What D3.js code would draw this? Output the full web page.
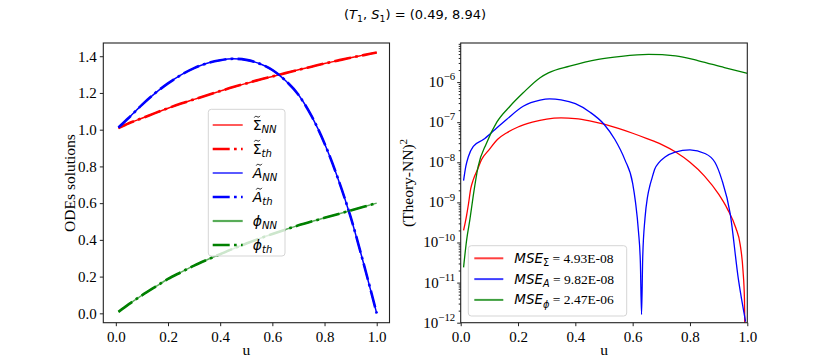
<!DOCTYPE html>
<head>
<meta charset="utf-8">
<title>ODE solutions vs NN</title>
<script src="https://d3js.org/d3.v7.min.js"></script>
<style>
body { margin: 0; background: #fff; }
svg { display: block; }
</style>
</head>
<body>
<script>
// ---- left panel: solutions of the ODEs ----
const uSol = [0.01, 0.05, 0.1, 0.15, 0.2, 0.25, 0.3, 0.35, 0.4, 0.45, 0.5,
              0.55, 0.6, 0.65, 0.7, 0.75, 0.8, 0.85, 0.9, 0.95, 1.0];
const sigmaVals = [1.008, 1.035, 1.062, 1.09, 1.117, 1.142, 1.165, 1.188, 1.21, 1.232, 1.252,
                   1.272, 1.29, 1.308, 1.326, 1.343, 1.36, 1.376, 1.392, 1.406, 1.42];
const aVals = [1.012, 1.065, 1.135, 1.198, 1.252, 1.298, 1.335, 1.362, 1.378, 1.386, 1.38,
               1.36, 1.325, 1.268, 1.19, 1.075, 0.925, 0.74, 0.525, 0.27, 0.0];
const phiVals = [0.008, 0.05, 0.098, 0.143, 0.187, 0.224, 0.26, 0.292, 0.322, 0.352, 0.38,
                 0.407, 0.432, 0.456, 0.479, 0.5, 0.52, 0.54, 0.56, 0.58, 0.6];

// ---- right panel: squared error (theory - NN)^2 ----
const uErrSigma = [0.01, 0.02, 0.027, 0.035, 0.044, 0.06, 0.073, 0.1, 0.13, 0.16, 0.2, 0.25, 0.3, 0.35,
                   0.4, 0.45, 0.5, 0.55, 0.6, 0.65, 0.7, 0.75, 0.8, 0.85, 0.9, 0.93, 0.96, 0.975, 0.985, 0.99, 0.995];
const errSigma = [2.0e-10, 4.5e-10, 9e-10, 2.2e-9, 3.7e-9, 7e-9, 1.17e-8, 2.1e-8, 3.8e-8, 5.4e-8, 7.6e-8, 1.0e-7, 1.2e-7, 1.28e-7,
                  1.23e-7, 1.08e-7, 8.9e-8, 7.0e-8, 5.3e-8, 3.9e-8, 2.8e-8, 1.8e-8, 1.0e-8, 4.6e-9, 1.6e-9, 7e-10, 2.3e-10, 9e-11, 2e-11, 4e-12, 1e-14];

const uErrA = [0.01, 0.018, 0.027, 0.044, 0.079, 0.12, 0.16, 0.218, 0.277, 0.31, 0.35, 0.4, 0.45, 0.5, 0.538, 0.573,
               0.6, 0.61, 0.62, 0.627, 0.631, 0.635, 0.643, 0.652, 0.66, 0.666, 0.678, 0.69, 0.713, 0.748, 0.8, 0.852, 0.887, 0.911,
               0.94, 0.969, 0.994];
const errA = [3.5e-9, 8e-9, 1.4e-8, 2.5e-8, 3.7e-8, 6.6e-8, 1.17e-7, 2.5e-7, 3.55e-7, 3.8e-7, 3.6e-7, 2.9e-7, 1.8e-7, 8.9e-8, 3.7e-8, 1.15e-8,
              3.0e-9, 1.0e-9, 2.0e-10, 3e-11, 1.6e-12, 4e-11, 4e-10, 1.4e-9, 2.6e-9, 3.7e-9, 7e-9, 9.5e-9, 1.35e-8, 1.8e-8, 2.04e-8, 1.66e-8, 1.0e-8, 3.7e-9,
              5.4e-10, 1.2e-11, 1.07e-12];

const uErrPhi = [0.01, 0.021, 0.032, 0.044, 0.061, 0.09, 0.126, 0.172, 0.218, 0.277, 0.306, 0.38, 0.48, 0.56, 0.655,
                 0.75, 0.83, 0.92, 1.0];
const errPhi = [2.4e-11, 1.2e-10, 3.7e-10, 1.5e-9, 7.9e-9, 3.0e-8, 1.0e-7, 2.5e-7, 5.4e-7, 1.29e-6, 1.7e-6, 2.5e-6, 3.7e-6, 4.4e-6, 4.9e-6,
                4.5e-6, 3.4e-6, 2.3e-6, 1.66e-6];

const mseValues = ["4.93E-08", "9.82E-08", "2.47E-06"];
const xTicks = [0, 0.2, 0.4, 0.6, 0.8, 1.0];
const yTicksSol = [0, 0.2, 0.4, 0.6, 0.8, 1.0, 1.2, 1.4];
const logTickExps = [-12, -11, -10, -9, -8, -7, -6];

const width = 830, height = 363;
const yTop = 43, yBot = 322.7;
const L = {x0: 103.3, x1: 389.5};
const R = {x0: 460.7, x1: 747.3};
const SERIF = '"Liberation Serif", "Times New Roman", serif';
const SANS = '"DejaVu Sans", sans-serif';

const svg = d3.select('body').append('svg')
  .attr('width', width)
  .attr('height', height);

// text with sub/superscript pieces
function richText(g, x, y, parts, size, anchor) {
  const t = g.append('text')
    .attr('x', x).attr('y', y)
    .attr('text-anchor', anchor || 'start')
    .style('font-size', size + 'px')
    .style('fill', '#000');
  let shift = 0;
  parts.forEach(p => {
    const target = p.sub ? size * 0.24 : p.sup ? -size * 0.45 : 0;
    const ts = t.append('tspan').attr('dy', target - shift).text(p.t);
    shift = target;
    ts.style('font-family', p.serif ? SERIF : SANS);
    if (p.it) ts.style('font-style', 'italic');
    if (p.sub || p.sup) ts.style('font-size', (size * 0.72) + 'px');
  });
  return t;
}

function styleTicks(g) {
  g.select('.domain').remove();
  g.selectAll('.tick line').attr('stroke', '#222');
  g.selectAll('.tick text').style('font-family', SERIF).style('font-size', '15px').style('fill', '#000');
}

// title
richText(svg, width / 2, 19, [
  {t: '('}, {t: 'T', it: true}, {t: '1', sub: true}, {t: ', '}, {t: 'S', it: true}, {t: '1', sub: true},
  {t: ') = (0.49, 8.94)'}
], 13, 'middle');

// ================= left panel =================
const xL = d3.scaleLinear().domain([-0.048, 1.049]).range([L.x0, L.x1]);
const yL = d3.scaleLinear().domain([-0.051, 1.472]).range([yBot, yTop]);

svg.append('clipPath').attr('id', 'clipL')
  .append('rect').attr('x', L.x0).attr('y', yTop).attr('width', L.x1 - L.x0).attr('height', yBot - yTop);

const gxL = svg.append('g')
  .attr('transform', 'translate(0,' + yBot + ')')
  .call(d3.axisBottom(xL).tickValues(xTicks).tickFormat(d3.format('.1f')).tickSize(3.5).tickSizeOuter(0))
  .call(styleTicks);
gxL.selectAll('.tick text').attr('dy', '0.85em');

svg.append('g')
  .attr('transform', 'translate(' + L.x0 + ',0)')
  .call(d3.axisLeft(yL).tickValues(yTicksSol).tickFormat(d3.format('.1f')).tickSize(3.5).tickSizeOuter(0))
  .call(styleTicks);

const line = (xs, ys, sx, sy) => d3.line()
  .x(i => sx(xs[i])).y(i => sy(ys[i]))
  .curve(d3.curveMonotoneX)(d3.range(xs.length));

const dashDot = '17 4.3 2.7 4.3';
const solSeries = [
  {vals: sigmaVals, color: 'red'},
  {vals: aVals, color: 'blue'},
  {vals: phiVals, color: 'green'}
];
const plotL = svg.append('g').attr('clip-path', 'url(#clipL)');
solSeries.forEach(s => {
  plotL.append('path').attr('d', line(uSol, s.vals, xL, yL))
    .attr('fill', 'none').attr('stroke', s.color).attr('stroke-width', 1.5)
    .attr('opacity', s.color === 'green' ? 0.65 : 1);
  plotL.append('path').attr('d', line(uSol, s.vals, xL, yL))
    .attr('fill', 'none').attr('stroke', s.color).attr('stroke-width', 2.6)
    .attr('stroke-dasharray', dashDot);
});

svg.append('rect').attr('x', L.x0).attr('y', yTop).attr('width', L.x1 - L.x0).attr('height', yBot - yTop)
  .attr('fill', 'none').attr('stroke', '#222').attr('stroke-width', 1.1);

// left legend
const legL = svg.append('g');
legL.append('rect').attr('x', 208.3).attr('y', 109.3).attr('width', 76.7).attr('height', 146.7)
  .attr('rx', 3).attr('fill', 'white').attr('fill-opacity', 0.8).attr('stroke', '#d5d5d5');
const legEntries = [
  {color: 'red', dash: false, lw: 1.3, tilde: true, parts: [{t: 'Σ'}, {t: 'NN', it: true, sub: true}]},
  {color: 'red', dash: true, lw: 2.7, tilde: true, parts: [{t: 'Σ'}, {t: 'th', it: true, sub: true}]},
  {color: 'blue', dash: false, lw: 1.3, tilde: true, slant: 1.6, parts: [{t: 'A', it: true}, {t: 'NN', it: true, sub: true}]},
  {color: 'blue', dash: true, lw: 2.7, tilde: true, slant: 1.6, parts: [{t: 'A', it: true}, {t: 'th', it: true, sub: true}]},
  {color: 'green', dash: false, lw: 2.2, op: 0.65, parts: [{t: 'ϕ', it: true}, {t: 'NN', it: true, sub: true}]},
  {color: 'green', dash: true, lw: 2.7, parts: [{t: 'ϕ', it: true}, {t: 'th', it: true, sub: true}]}
];
// small tilde accent drawn as a stroke
const tildeShape = [[-3, 0.8], [-1.5, -0.7], [0, 0], [1.5, 0.7], [3, -0.8]];
legEntries.forEach((e, i) => {
  const yy = 125 + i * 24;
  const base = yy + 4.5;
  legL.append('line').attr('x1', 212.7).attr('x2', 242.7).attr('y1', yy).attr('y2', yy)
    .attr('stroke', e.color).attr('stroke-width', e.lw).attr('opacity', e.op || 1)
    .attr('stroke-dasharray', e.dash ? dashDot : null);
  const t = richText(legL, 252.7, base, e.parts, 14);
  if (e.tilde) {
    const ext = t.node().getExtentOfChar(0);
    const cx = ext.x + ext.width / 2 + (e.slant || 0), cy = base - 12.8;
    legL.append('path')
      .attr('d', d3.line().curve(d3.curveBasis)(tildeShape.map(p => [cx + p[0], cy + p[1]])))
      .attr('fill', 'none').attr('stroke', '#000').attr('stroke-width', 0.9);
  }
});

svg.append('text')
  .attr('transform', 'translate(75,183) rotate(-90)')
  .attr('text-anchor', 'middle')
  .style('font-family', SERIF).style('font-size', '15.5px')
  .text('ODEs solutions');
svg.append('text')
  .attr('x', (L.x0 + L.x1) / 2).attr('y', 355).attr('text-anchor', 'middle')
  .style('font-family', SERIF).style('font-size', '15.5px')
  .text('u');

// ================= right panel =================
const xR = d3.scaleLinear().domain([0, 1]).range([R.x0, R.x1]);
const yR = d3.scaleLog().domain([1e-12, Math.pow(10, -5.025)]).range([yBot, yTop]);

svg.append('clipPath').attr('id', 'clipR')
  .append('rect').attr('x', R.x0).attr('y', yTop).attr('width', R.x1 - R.x0).attr('height', yBot - yTop);

const gxR = svg.append('g')
  .attr('transform', 'translate(0,' + yBot + ')')
  .call(d3.axisBottom(xR).tickValues(xTicks).tickFormat(d3.format('.1f')).tickSize(3.5).tickSizeOuter(0))
  .call(styleTicks);
gxR.selectAll('.tick text').attr('dy', '0.85em');

// minor log ticks
const minor = [];
logTickExps.forEach(k => d3.range(2, 10).forEach(m => {
  const v = m * Math.pow(10, k);
  if (v <= yR.domain()[1]) minor.push(v);
}));
svg.append('g')
  .attr('transform', 'translate(' + R.x0 + ',0)')
  .call(d3.axisLeft(yR).tickValues(minor).tickFormat('').tickSize(2).tickSizeOuter(0))
  .call(styleTicks);

svg.append('g')
  .attr('transform', 'translate(' + R.x0 + ',0)')
  .call(d3.axisLeft(yR).tickValues(logTickExps.map(k => Math.pow(10, k))).tickFormat('').tickSize(3.5).tickSizeOuter(0))
  .call(styleTicks);
logTickExps.forEach(k => {
  richText(svg, R.x0 - 5.5, yR(Math.pow(10, k)) + 5, [
    {t: '10', serif: true}, {t: '\u2212' + (-k), serif: true, sup: true}
  ], 15, 'end');
});

const errSeries = [
  {u: uErrSigma, v: errSigma, color: 'red'},
  {u: uErrA, v: errA, color: 'blue'},
  {u: uErrPhi, v: errPhi, color: 'green'}
];
const plotR = svg.append('g').attr('clip-path', 'url(#clipR)');
errSeries.forEach(s => {
  plotR.append('path').attr('d', line(s.u, s.v, xR, yR))
    .attr('fill', 'none').attr('stroke', s.color).attr('stroke-width', 1.3);
});

svg.append('rect').attr('x', R.x0).attr('y', yTop).attr('width', R.x1 - R.x0).attr('height', yBot - yTop)
  .attr('fill', 'none').attr('stroke', '#222').attr('stroke-width', 1.1);

// right legend
const legR = svg.append('g');
legR.append('rect').attr('x', 468.3).attr('y', 245.7).attr('width', 158.4).attr('height', 70.3)
  .attr('rx', 3).attr('fill', 'white').attr('fill-opacity', 0.8).attr('stroke', '#d5d5d5');
const mseSubs = [{t: 'Σ', sub: true}, {t: 'A', it: true, sub: true}, {t: 'ϕ', it: true, sub: true}];
errSeries.forEach((s, i) => {
  const yy = 258.3 + i * 20.8;
  legR.append('line').attr('x1', 474.3).attr('x2', 503.3).attr('y1', yy).attr('y2', yy)
    .attr('stroke', s.color).attr('stroke-width', 2).attr('opacity', 0.75);
  richText(legR, 514.3, yy + 4.5, [
    {t: 'MSE', it: true}, mseSubs[i], {t: ' = ' + mseValues[i], serif: true}
  ], 13.5);
});

svg.append('text')
  .attr('transform', 'translate(413,183) rotate(-90)')
  .attr('text-anchor', 'middle')
  .style('font-family', SERIF).style('font-size', '15.5px')
  .call(t => {
    t.append('tspan').text('(Theory-NN)');
    t.append('tspan').attr('dy', -6).style('font-size', '11px').text('2');
  });
svg.append('text')
  .attr('x', (R.x0 + R.x1) / 2).attr('y', 355).attr('text-anchor', 'middle')
  .style('font-family', SERIF).style('font-size', '15.5px')
  .text('u');
</script>
</body>
